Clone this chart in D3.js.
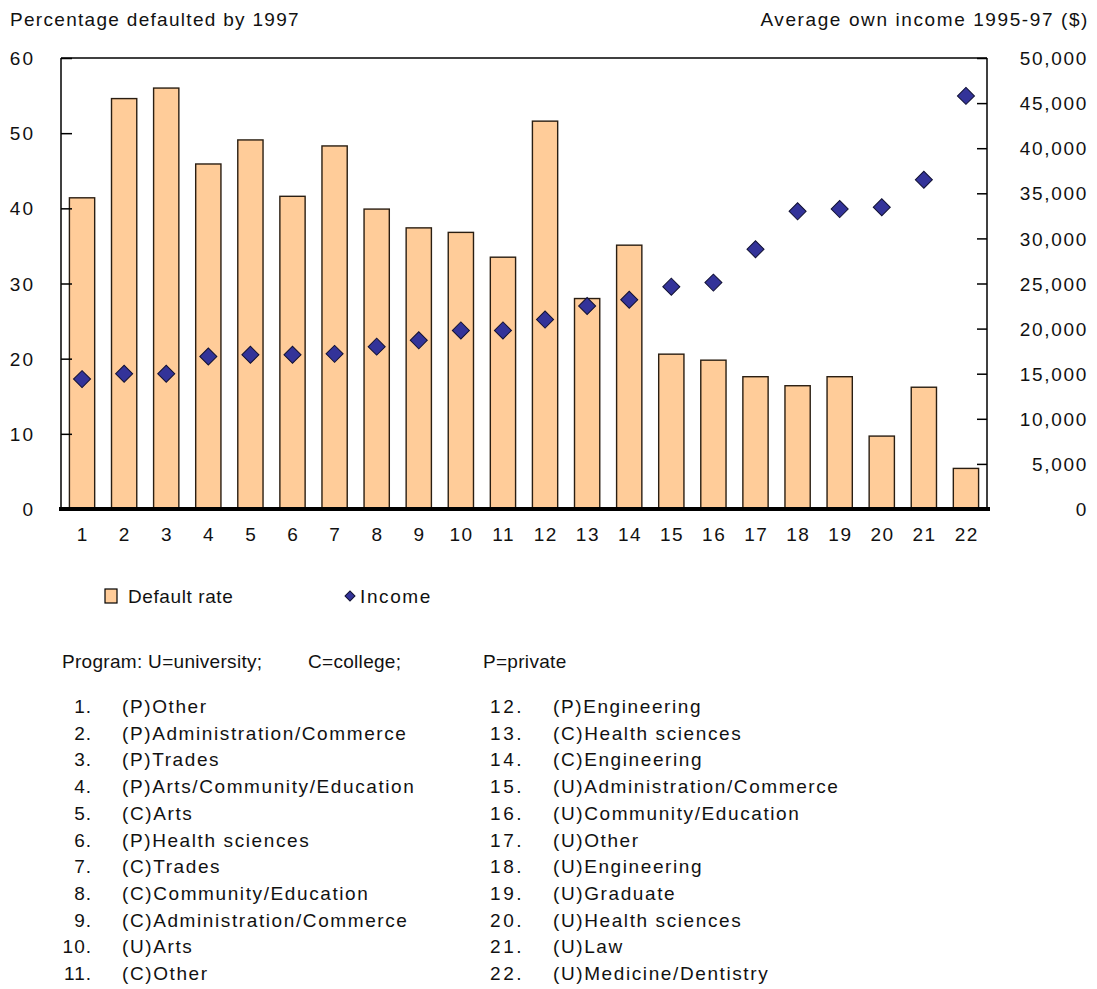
<!DOCTYPE html>
<html><head><meta charset="utf-8">
<script src="https://cdn.jsdelivr.net/npm/d3@7"></script>
<style>
body{margin:0;background:#fff;}
text{font-family:"Liberation Sans Narrow","Arial Narrow","Liberation Sans",sans-serif;fill:#111;}
</style></head>
<body><svg id="c" width="1097" height="989"></svg>
<script>
const categories = d3.range(1,23).map(String);
const defaultRate = [41.4,54.6,56.0,45.9,49.1,41.6,48.3,39.9,37.4,36.8,33.5,51.6,28.0,35.1,20.6,19.8,17.6,16.4,17.6,9.7,16.2,5.4];
const income = [14400,15000,15000,16900,17100,17100,17200,18000,18700,19800,19800,21000,22500,23200,24650,25100,28800,33000,33250,33450,36500,45800];
const leftTicks = [0,10,20,30,40,50,60];
const rightTicks = [0,5000,10000,15000,20000,25000,30000,35000,40000,45000,50000];
const programs = ["(P)Other","(P)Administration/Commerce","(P)Trades","(P)Arts/Community/Education","(C)Arts","(P)Health sciences","(C)Trades","(C)Community/Education","(C)Administration/Commerce","(U)Arts","(C)Other","(P)Engineering","(C)Health sciences","(C)Engineering","(U)Administration/Commerce","(U)Community/Education","(U)Other","(U)Engineering","(U)Graduate","(U)Health sciences","(U)Law","(U)Medicine/Dentistry"];

const svg = d3.select("#c");
const L=61, R=987, T=58, B=509;
const x = d3.scaleBand().domain(categories).range([L,R]).paddingInner(0.4).paddingOuter(0.2);
const yL = d3.scaleLinear().domain([0,60]).range([B,T]);
const yR = d3.scaleLinear().domain([0,50000]).range([B,T]);
const fs = 19;

// titles
svg.append("text").attr("x",10).attr("y",26).attr("font-size",fs).attr("letter-spacing","1.3px").text("Percentage defaulted by 1997");
svg.append("text").attr("x",1089).attr("y",26).attr("text-anchor","end").attr("font-size",fs).attr("letter-spacing","1.6px").text("Average own income 1995-97 ($)");

// bars
svg.append("g").selectAll("rect").data(defaultRate).join("rect")
  .attr("x",(d,i)=>x(categories[i])).attr("width",x.bandwidth())
  .attr("y",d=>yL(d)).attr("height",d=>B-yL(d))
  .attr("fill","#FFCC99").attr("stroke","#2a1e12").attr("stroke-width",1.4);

// frame
const fr = svg.append("g").attr("stroke","#000").attr("fill","none");
fr.append("line").attr("x1",L).attr("x2",R).attr("y1",T).attr("y2",T).attr("stroke-width",1.5);
fr.append("line").attr("x1",L).attr("x2",L).attr("y1",T).attr("y2",B).attr("stroke-width",1.5);
fr.append("line").attr("x1",R).attr("x2",R).attr("y1",T).attr("y2",B).attr("stroke-width",1.5);

// left axis
const gl = svg.append("g").attr("transform",`translate(${L},0)`)
  .call(d3.axisRight(yL).tickValues(leftTicks).tickSize(11).tickFormat(d3.format("d")));
gl.select(".domain").remove();
gl.selectAll("line").attr("stroke","#000").attr("stroke-width",1.5);
gl.selectAll("text").attr("x",-26).attr("text-anchor","end").attr("font-size",fs).attr("letter-spacing","2px").attr("dy","0.35em");

// right axis
const gr = svg.append("g").attr("transform",`translate(${R},0)`)
  .call(d3.axisLeft(yR).tickValues(rightTicks).tickSize(10).tickFormat(d3.format(",")));
gr.select(".domain").remove();
gr.selectAll("line").attr("stroke","#000").attr("stroke-width",1.5);
gr.selectAll("text").attr("x",101).attr("text-anchor","end").attr("font-size",fs).attr("letter-spacing","1.7px").attr("dy","0.35em");

// x axis
const gx = svg.append("g").attr("transform",`translate(0,${B})`)
  .call(d3.axisBottom(x).tickSize(0).tickPadding(19));
gx.select(".domain").remove();
gx.selectAll("text").attr("font-size",fs).attr("letter-spacing","1.5px").attr("dx","0.75px");
svg.append("line").attr("x1",L-2).attr("x2",R+3).attr("y1",B).attr("y2",B).attr("stroke","#000").attr("stroke-width",4);

// diamonds
svg.append("g").selectAll("path").data(income).join("path")
  .attr("d", d3.symbol().type(d3.symbolSquare).size(145))
  .attr("transform",(d,i)=>`translate(${x(categories[i])+x.bandwidth()/2},${yR(d)}) rotate(45)`)
  .attr("fill","#333399").attr("stroke","#111133").attr("stroke-width",1);

// legend
svg.append("rect").attr("x",105).attr("y",589).attr("width",12).attr("height",14).attr("fill","#FFCC99").attr("stroke","#000").attr("stroke-width",1.2);
svg.append("text").attr("x",128).attr("y",603).attr("font-size",fs).attr("letter-spacing","0.6px").text("Default rate");
svg.append("path").attr("d",d3.symbol().type(d3.symbolSquare).size(50)).attr("transform","translate(350,596) rotate(45)").attr("fill","#333399").attr("stroke","#111133");
svg.append("text").attr("x",360).attr("y",603).attr("font-size",fs).attr("letter-spacing","1.6px").text("Income");

// program notes
const note = [["Program: U=university;",62],["C=college;",308],["P=private",483]];
svg.append("g").selectAll("text").data(note).join("text")
  .attr("x",d=>d[1]).attr("y",668).attr("font-size",fs).attr("letter-spacing","0.3px").text(d=>d[0]);

const rowY = i => 713 + (i%11)*26.7;
const lg = svg.append("g");
lg.selectAll("text.num").data(programs).join("text").attr("class","num")
  .attr("x",(d,i)=> i<11 ? 92 : 524).attr("text-anchor","end")
  .attr("y",(d,i)=>rowY(i)).attr("font-size",fs).attr("letter-spacing",(d,i)=> i<11 ? "1px":"2.5px")
  .text((d,i)=>categories[i]+".");
lg.selectAll("text.lab").data(programs).join("text").attr("class","lab")
  .attr("x",(d,i)=> i<11 ? 122 : 553)
  .attr("y",(d,i)=>rowY(i)).attr("font-size",fs).attr("letter-spacing","1.6px")
  .text(d=>d);
</script></body></html>
